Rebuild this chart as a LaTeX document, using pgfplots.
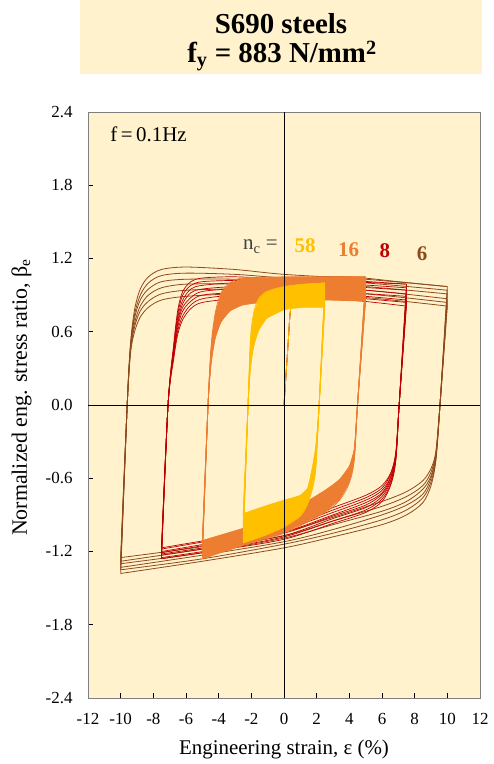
\documentclass[border=0pt]{standalone}
\usepackage{fontspec}
\setmainfont{Liberation Serif}
\usepackage{pgfplots}
\pgfplotsset{compat=1.18}
\definecolor{bg}{HTML}{FFF2CC}
\definecolor{brn}{HTML}{8E4A1C}
\definecolor{rd}{HTML}{C00000}
\definecolor{org}{HTML}{ED7D31}
\definecolor{ylw}{HTML}{FFC000}
\definecolor{frm}{HTML}{7F7F7F}
\pgfplotsset{
  lb/.style={color=brn, line width=0.8bp, smooth, tension=0.5, mark=none},
  lr/.style={color=rd, line width=0.7bp, smooth, tension=0.5, mark=none},
  lo/.style={color=org, line width=0.7bp, smooth, tension=0.5, mark=none},
  ly/.style={color=ylw, line width=0.7bp, smooth, tension=0.5, mark=none},
}
\begin{document}
\begin{tikzpicture}
\path[use as bounding box] (-88bp,-66bp) rectangle (406bp,698bp);
\begin{axis}[name=ax, at={(0,0)}, anchor=south west,
  width=392bp, height=586bp, scale only axis,
  xmin=-12, xmax=12, ymin=-2.4, ymax=2.4,
  axis background/.style={fill=bg},
  axis line style={frm, line width=0.8bp},
  axis on top,
  tick align=inside, tick pos=left, major tick length=5bp,
  every tick/.style={black, line width=0.6bp},
  xtick={-12,-10,...,12},
  xticklabels={-12,-10,-8,-6,-4,-2,0,2,4,6,8,10,12},
  ytick={-2.4,-1.8,-1.2,-0.6,0,0.6,1.2,1.8,2.4},
  yticklabels={-2.4,-1.8,-1.2,-0.6,0.0,0.6,1.2,1.8,2.4},
  ticklabel style={font=\fontsize{17}{17}\selectfont},
  xticklabel style={yshift=-12bp},
  yticklabel style={xshift=-12bp},
  extra x ticks={0}, extra x tick labels={},
  extra y ticks={0}, extra y tick labels={},
  extra tick style={grid=major, major grid style={black, line width=0.9bp}},
]
% ---------------- brown: n_c = 6, +-10 %
\addplot[lb] coordinates {(0,0)(0.25,.5)(0.4,.78)(0.7,.95)(1.5,1.04)(4,1.05)(7,1.01)(10,.97)};
\addplot[lb] coordinates {(-10,-1.38)(-9.6,0)(-9.4,.50)(-9.15,.78)(-8.8,.95)(-8.3,1.05)(-7.5,1.11)(-6,1.13)(-3,1.11)(0,1.07)(5,1.03)(10,.97)};
\addplot[lb] coordinates {(-10,-1.35)(-9.6,0)(-9.4,.48)(-9.15,.74)(-8.8,.90)(-8.3,1.00)(-7.5,1.06)(-6,1.08)(-3,1.07)(0,1.04)(5,1.00)(10,.94)};
\addplot[lb] coordinates {(-10,-1.33)(-9.6,0)(-9.4,.47)(-9.15,.71)(-8.8,.86)(-8.3,.95)(-7.5,1.01)(-6,1.03)(-3,1.03)(0,1.01)(5,.97)(10,.91)};
\addplot[lb] coordinates {(-10,-1.30)(-9.6,0)(-9.4,.45)(-9.15,.67)(-8.8,.81)(-8.3,.90)(-7.5,.96)(-6,.99)(-3,.99)(0,.97)(5,.94)(10,.87)};
\addplot[lb] coordinates {(-10,-1.28)(-9.6,0)(-9.4,.44)(-9.15,.64)(-8.8,.77)(-8.3,.85)(-7.5,.91)(-6,.94)(-3,.95)(0,.94)(5,.91)(10,.84)};
\addplot[lb] coordinates {(-10,-1.25)(-9.6,0)(-9.4,.42)(-9.15,.60)(-8.8,.72)(-8.3,.80)(-7.5,.86)(-6,.89)(-3,.91)(0,.91)(5,.88)(10,.81)};
\addplot[lb] coordinates {(10,.97)(9.55,0)(9.3,-.45)(9.0,-.66)(8.5,-.80)(7.5,-.90)(6,-.98)(3,-1.08)(0,-1.17)(-5,-1.28)(-10,-1.38)};
\addplot[lb] coordinates {(10,.94)(9.55,0)(9.3,-.44)(9.0,-.63)(8.5,-.76)(7.5,-.86)(6,-.94)(3,-1.05)(0,-1.14)(-5,-1.26)(-10,-1.35)};
\addplot[lb] coordinates {(10,.91)(9.55,0)(9.3,-.42)(9.0,-.60)(8.5,-.73)(7.5,-.82)(6,-.90)(3,-1.02)(0,-1.12)(-5,-1.23)(-10,-1.33)};
\addplot[lb] coordinates {(10,.87)(9.55,0)(9.3,-.41)(9.0,-.58)(8.5,-.69)(7.5,-.79)(6,-.87)(3,-.98)(0,-1.09)(-5,-1.21)(-10,-1.30)};
\addplot[lb] coordinates {(10,.84)(9.55,0)(9.3,-.39)(9.0,-.55)(8.5,-.66)(7.5,-.75)(6,-.83)(3,-.95)(0,-1.07)(-5,-1.18)(-10,-1.28)};
\addplot[lb] coordinates {(10,.81)(9.55,0)(9.3,-.38)(9.0,-.52)(8.5,-.62)(7.5,-.71)(6,-.79)(3,-.92)(0,-1.04)(-5,-1.16)(-10,-1.25)};
% ---------------- red: n_c = 8, +-7.5 %
\addplot[lr] coordinates {(0,0)(0.25,.5)(0.4,.78)(0.7,.95)(1.5,1.03)(4,1.02)(7.5,.99)};
\addplot[lr] coordinates {(-7.5,-1.26)(-7.1,0)(-6.75,.50)(-6.5,.78)(-6.2,.93)(-5.7,1.01)(-5,1.04)(-3,1.05)(0,1.03)(4,1.01)(7.5,.99)};
\addplot[lr] coordinates {(-7.5,-1.25)(-7.1,0)(-6.75,.48)(-6.5,.75)(-6.2,.90)(-5.7,.98)(-5,1.01)(-3,1.02)(0,1.01)(4,.99)(7.5,.96)};
\addplot[lr] coordinates {(-7.5,-1.23)(-7.1,0)(-6.75,.47)(-6.5,.72)(-6.2,.86)(-5.7,.95)(-5,.98)(-3,1.00)(0,.99)(4,.97)(7.5,.94)};
\addplot[lr] coordinates {(-7.5,-1.22)(-7.1,0)(-6.75,.45)(-6.5,.69)(-6.2,.83)(-5.7,.92)(-5,.95)(-3,.97)(0,.97)(4,.95)(7.5,.91)};
\addplot[lr] coordinates {(-7.5,-1.21)(-7.1,0)(-6.75,.43)(-6.5,.67)(-6.2,.80)(-5.7,.88)(-5,.93)(-3,.95)(0,.94)(4,.92)(7.5,.89)};
\addplot[lr] coordinates {(-7.5,-1.20)(-7.1,0)(-6.75,.41)(-6.5,.64)(-6.2,.77)(-5.7,.85)(-5,.90)(-3,.92)(0,.92)(4,.90)(7.5,.86)};
\addplot[lr] coordinates {(-7.5,-1.18)(-7.1,0)(-6.75,.40)(-6.5,.61)(-6.2,.73)(-5.7,.82)(-5,.87)(-3,.90)(0,.90)(4,.88)(7.5,.84)};
\addplot[lr] coordinates {(-7.5,-1.17)(-7.1,0)(-6.75,.38)(-6.5,.58)(-6.2,.70)(-5.7,.79)(-5,.84)(-3,.87)(0,.88)(4,.86)(7.5,.81)};
\addplot[lr] coordinates {(7.5,.99)(7.05,0)(6.85,-.45)(6.55,-.65)(6,-.79)(5,-.88)(3,-.97)(0,-1.10)(-4,-1.19)(-7.5,-1.26)};
\addplot[lr] coordinates {(7.5,.96)(7.05,0)(6.85,-.44)(6.55,-.64)(6,-.77)(5,-.86)(3,-.95)(0,-1.08)(-4,-1.18)(-7.5,-1.25)};
\addplot[lr] coordinates {(7.5,.94)(7.05,0)(6.85,-.43)(6.55,-.62)(6,-.75)(5,-.84)(3,-.93)(0,-1.07)(-4,-1.16)(-7.5,-1.23)};
\addplot[lr] coordinates {(7.5,.91)(7.05,0)(6.85,-.42)(6.55,-.61)(6,-.73)(5,-.82)(3,-.91)(0,-1.05)(-4,-1.15)(-7.5,-1.22)};
\addplot[lr] coordinates {(7.5,.89)(7.05,0)(6.85,-.41)(6.55,-.59)(6,-.72)(5,-.80)(3,-.90)(0,-1.04)(-4,-1.13)(-7.5,-1.21)};
\addplot[lr] coordinates {(7.5,.86)(7.05,0)(6.85,-.40)(6.55,-.58)(6,-.70)(5,-.78)(3,-.88)(0,-1.02)(-4,-1.12)(-7.5,-1.20)};
\addplot[lr] coordinates {(7.5,.84)(7.05,0)(6.85,-.39)(6.55,-.56)(6,-.68)(5,-.76)(3,-.86)(0,-1.01)(-4,-1.10)(-7.5,-1.18)};
\addplot[lr] coordinates {(7.5,.81)(7.05,0)(6.85,-.38)(6.55,-.55)(6,-.66)(5,-.74)(3,-.84)(0,-.99)(-4,-1.09)(-7.5,-1.17)};
% ---------------- orange: n_c = 16, +-5 %
\addplot[fill=org, draw=none] coordinates {(-5,-1.26)(-4.65,0)(-4.45,.50)(-4.2,.76)(-3.85,.92)(-3.3,1.00)(-2.5,1.04)(0,1.05)(2.5,1.05)(5,1.05)(5,.85)(2.5,.86)(0,.86)(-2.5,.82)(-3.3,.77)(-3.85,.68)(-4.2,.55)(-4.45,.35)(-4.65,0)(-5,-1.11)} -- cycle;
\addplot[fill=org, draw=none] coordinates {(5,1.05)(4.5,0)(4.3,-.45)(4.0,-.64)(3.4,-.78)(2.5,-.88)(0,-1.05)(-2.5,-1.15)(-5,-1.26)(-5,-1.11)(-2.5,-1.01)(0,-.90)(2.5,-.70)(3.4,-.61)(4.0,-.50)(4.3,-.36)(4.5,0)(5,.85)} -- cycle;
\addplot[lo] coordinates {(0,0)(0.25,.5)(0.4,.78)(0.7,.95)(1.5,1.03)(3,1.05)(5,1.05)};
\addplot[lo] coordinates {(-5,-1.26)(-4.65,0)(-4.45,.50)(-4.2,.76)(-3.85,.92)(-3.3,1.00)(-2.5,1.04)(0,1.05)(2.5,1.05)(5,1.05)};
\addplot[lo] coordinates {(-5,-1.24)(-4.65,0)(-4.45,.48)(-4.2,.73)(-3.85,.89)(-3.3,.97)(-2.5,1.01)(0,1.02)(2.5,1.02)(5,1.02)};
\addplot[lo] coordinates {(-5,-1.22)(-4.65,0)(-4.45,.46)(-4.2,.70)(-3.85,.85)(-3.3,.93)(-2.5,.98)(0,1.00)(2.5,1.00)(5,.99)};
\addplot[lo] coordinates {(-5,-1.20)(-4.65,0)(-4.45,.44)(-4.2,.67)(-3.85,.82)(-3.3,.90)(-2.5,.95)(0,.97)(2.5,.97)(5,.96)};
\addplot[lo] coordinates {(-5,-1.17)(-4.65,0)(-4.45,.41)(-4.2,.64)(-3.85,.78)(-3.3,.87)(-2.5,.91)(0,.94)(2.5,.94)(5,.94)};
\addplot[lo] coordinates {(-5,-1.15)(-4.65,0)(-4.45,.39)(-4.2,.61)(-3.85,.75)(-3.3,.84)(-2.5,.88)(0,.91)(2.5,.91)(5,.91)};
\addplot[lo] coordinates {(-5,-1.13)(-4.65,0)(-4.45,.37)(-4.2,.58)(-3.85,.71)(-3.3,.80)(-2.5,.85)(0,.89)(2.5,.89)(5,.88)};
\addplot[lo] coordinates {(-5,-1.11)(-4.65,0)(-4.45,.35)(-4.2,.55)(-3.85,.68)(-3.3,.77)(-2.5,.82)(0,.86)(2.5,.86)(5,.85)};
\addplot[lo] coordinates {(5,1.05)(4.5,0)(4.3,-.45)(4.0,-.64)(3.4,-.78)(2.5,-.88)(0,-1.05)(-2.5,-1.15)(-5,-1.26)};
\addplot[lo] coordinates {(5,1.02)(4.5,0)(4.3,-.44)(4.0,-.62)(3.4,-.76)(2.5,-.85)(0,-1.03)(-2.5,-1.13)(-5,-1.24)};
\addplot[lo] coordinates {(5,.99)(4.5,0)(4.3,-.42)(4.0,-.60)(3.4,-.73)(2.5,-.83)(0,-1.01)(-2.5,-1.11)(-5,-1.22)};
\addplot[lo] coordinates {(5,.96)(4.5,0)(4.3,-.41)(4.0,-.58)(3.4,-.71)(2.5,-.80)(0,-.99)(-2.5,-1.09)(-5,-1.20)};
\addplot[lo] coordinates {(5,.94)(4.5,0)(4.3,-.40)(4.0,-.56)(3.4,-.68)(2.5,-.78)(0,-.96)(-2.5,-1.07)(-5,-1.17)};
\addplot[lo] coordinates {(5,.91)(4.5,0)(4.3,-.39)(4.0,-.54)(3.4,-.66)(2.5,-.75)(0,-.94)(-2.5,-1.05)(-5,-1.15)};
\addplot[lo] coordinates {(5,.88)(4.5,0)(4.3,-.37)(4.0,-.52)(3.4,-.63)(2.5,-.73)(0,-.92)(-2.5,-1.03)(-5,-1.13)};
\addplot[lo] coordinates {(5,.85)(4.5,0)(4.3,-.36)(4.0,-.50)(3.4,-.61)(2.5,-.70)(0,-.90)(-2.5,-1.01)(-5,-1.11)};
% ---------------- yellow: n_c = 58, +-2.5 %
\addplot[fill=ylw, draw=none] coordinates {(-2.5,-1.13)(-2.2,0)(-2.05,.55)(-1.85,.76)(-1.55,.87)(-1.05,.93)(0,.97)(1.2,.99)(2.5,1.00)(2.5,.80)(1.2,.80)(0,.78)(-1.05,.71)(-1.55,.61)(-1.85,.48)(-2.05,.30)(-2.2,0)(-2.5,-.89)} -- cycle;
\addplot[fill=ylw, draw=none] coordinates {(2.5,1.00)(2.15,0)(1.95,-.52)(1.75,-.68)(1.45,-.81)(1.0,-.91)(0,-1.00)(-1.2,-1.07)(-2.5,-1.13)(-2.5,-.89)(-1.2,-.83)(0,-.78)(1.0,-.74)(1.45,-.68)(1.75,-.50)(1.95,-.33)(2.15,0)(2.5,.80)} -- cycle;
\addplot[ly] coordinates {(0,0)(0.25,.5)(0.4,.78)(0.7,.92)(1.5,.98)(2.5,1.0)};
\addplot[ly] coordinates {(-2.5,-1.13)(-2.2,0)(-2.05,.55)(-1.85,.76)(-1.55,.87)(-1.05,.93)(0,.97)(1.2,.99)(2.5,1.00)};
\addplot[ly] coordinates {(-2.5,-1.10)(-2.2,0)(-2.05,.51)(-1.85,.72)(-1.55,.83)(-1.05,.90)(0,.94)(1.2,.96)(2.5,.97)};
\addplot[ly] coordinates {(-2.5,-1.06)(-2.2,0)(-2.05,.48)(-1.85,.68)(-1.55,.80)(-1.05,.87)(0,.92)(1.2,.94)(2.5,.94)};
\addplot[ly] coordinates {(-2.5,-1.03)(-2.2,0)(-2.05,.44)(-1.85,.64)(-1.55,.76)(-1.05,.84)(0,.89)(1.2,.91)(2.5,.91)};
\addplot[ly] coordinates {(-2.5,-.99)(-2.2,0)(-2.05,.41)(-1.85,.60)(-1.55,.72)(-1.05,.80)(0,.86)(1.2,.88)(2.5,.89)};
\addplot[ly] coordinates {(-2.5,-.96)(-2.2,0)(-2.05,.37)(-1.85,.56)(-1.55,.68)(-1.05,.77)(0,.83)(1.2,.85)(2.5,.86)};
\addplot[ly] coordinates {(-2.5,-.92)(-2.2,0)(-2.05,.34)(-1.85,.52)(-1.55,.65)(-1.05,.74)(0,.81)(1.2,.83)(2.5,.83)};
\addplot[ly] coordinates {(-2.5,-.89)(-2.2,0)(-2.05,.30)(-1.85,.48)(-1.55,.61)(-1.05,.71)(0,.78)(1.2,.80)(2.5,.80)};
\addplot[ly] coordinates {(2.5,1.00)(2.15,0)(1.95,-.52)(1.75,-.68)(1.45,-.81)(1.0,-.91)(0,-1.00)(-1.2,-1.07)(-2.5,-1.13)};
\addplot[ly] coordinates {(2.5,.97)(2.15,0)(1.95,-.49)(1.75,-.65)(1.45,-.79)(1.0,-.89)(0,-.97)(-1.2,-1.04)(-2.5,-1.10)};
\addplot[ly] coordinates {(2.5,.94)(2.15,0)(1.95,-.47)(1.75,-.63)(1.45,-.77)(1.0,-.86)(0,-.94)(-1.2,-1.00)(-2.5,-1.06)};
\addplot[ly] coordinates {(2.5,.91)(2.15,0)(1.95,-.44)(1.75,-.60)(1.45,-.75)(1.0,-.84)(0,-.91)(-1.2,-.97)(-2.5,-1.03)};
\addplot[ly] coordinates {(2.5,.89)(2.15,0)(1.95,-.41)(1.75,-.58)(1.45,-.74)(1.0,-.81)(0,-.87)(-1.2,-.93)(-2.5,-.99)};
\addplot[ly] coordinates {(2.5,.86)(2.15,0)(1.95,-.38)(1.75,-.55)(1.45,-.72)(1.0,-.79)(0,-.84)(-1.2,-.90)(-2.5,-.96)};
\addplot[ly] coordinates {(2.5,.83)(2.15,0)(1.95,-.36)(1.75,-.53)(1.45,-.70)(1.0,-.76)(0,-.81)(-1.2,-.86)(-2.5,-.92)};
\addplot[ly] coordinates {(2.5,.80)(2.15,0)(1.95,-.33)(1.75,-.50)(1.45,-.68)(1.0,-.74)(0,-.78)(-1.2,-.83)(-2.5,-.89)};
% ---------------- annotations
\node[anchor=base west, font=\fontsize{21}{21}\selectfont] at (axis cs:-10.84,2.16) {f\,=\,0.1Hz};
\node[anchor=base, font=\fontsize{21}{21}\selectfont, text=black!75] at (axis cs:-1.44,1.27) {n\textsubscript{c} =};
\node[anchor=base, font=\bfseries\fontsize{21}{21}\selectfont, text=ylw] at (axis cs:1.29,1.25) {58};
\node[anchor=base, font=\bfseries\fontsize{21}{21}\selectfont, text=org] at (axis cs:3.95,1.22) {16};
\node[anchor=base, font=\bfseries\fontsize{21}{21}\selectfont, text=rd] at (axis cs:6.18,1.21) {8};
\node[anchor=base, font=\bfseries\fontsize{21}{21}\selectfont, text=brn] at (axis cs:8.45,1.18) {6};
\end{axis}
\node[rotate=90, anchor=base, font=\fontsize{22}{22}\selectfont] at ([xshift=-61bp,yshift=7.6bp]ax.west) {Normalized eng. stress ratio, β\textsubscript{e}};
\node[anchor=base, font=\fontsize{21}{21}\selectfont] at ([yshift=-56bp]ax.south) {Engineering strain, ε (\%)};
\fill[bg] ([xshift=-8bp,yshift=38bp]ax.north west) rectangle ([xshift=2bp,yshift=112bp]ax.north east);
\node[anchor=base, inner sep=0pt, font=\bfseries\fontsize{29}{29}\selectfont] at ([xshift=-3bp,yshift=78bp]ax.north) {S690 steels};
\node[anchor=base, inner sep=0pt, font=\bfseries\fontsize{29}{29}\selectfont] at ([xshift=-2bp,yshift=49bp]ax.north) {f\textsubscript{y} = 883 N/mm\textsuperscript{2}};
\end{tikzpicture}
\end{document}
